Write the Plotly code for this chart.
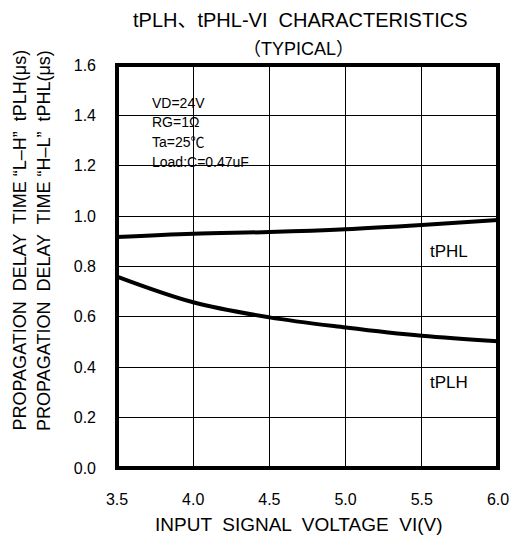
import plotly.graph_objects as go

vi = [3.5, 4.0, 4.5, 5.0, 5.5, 6.0]
tphl = [0.917, 0.930, 0.937, 0.948, 0.965, 0.985]
tplh = [0.760, 0.658, 0.598, 0.558, 0.525, 0.503]

x_ticks = [3.5, 4.0, 4.5, 5.0, 5.5, 6.0]
x_ticklabels = ["3.5", "4.0", "4.5", "5.0", "5.5", "6.0"]
y_ticks = [0.0, 0.2, 0.4, 0.6, 0.8, 1.0, 1.2, 1.4, 1.6]
y_ticklabels = ["0.0", "0.2", "0.4", "0.6", "0.8", "1.0", "1.2", "1.4", "1.6"]

conditions = ["VD=24V", "RG=1Ω", "Ta=25℃", "Load:C=0.47uF"]

FONT = "Liberation Sans, Noto Sans CJK JP, sans-serif"

# pixel layout of plot area
PL, PR, PT, PB = 117, 508, 65, 468
W, H = PR - PL, PB - PT


def px(x):
    return (x - PL) / W


def py(y):
    return (PB - y) / H


fig = go.Figure()
fig.add_trace(go.Scatter(x=vi, y=tphl, mode="lines", line=dict(color="black", width=4, shape="spline"),
                         name="tPHL", showlegend=False, hoverinfo="skip"))
fig.add_trace(go.Scatter(x=vi, y=tplh, mode="lines", line=dict(color="black", width=4, shape="spline"),
                         name="tPLH", showlegend=False, hoverinfo="skip"))

fig.update_layout(
    width=521, height=535, autosize=False,
    margin=dict(l=PL, r=521 - PR, t=PT, b=535 - PB),
    paper_bgcolor="white", plot_bgcolor="white",
    font=dict(family=FONT, color="black", size=16),
    xaxis=dict(range=[3.5, 6.0], tickvals=x_ticks, ticktext=x_ticklabels,
               showgrid=True, gridcolor="black", gridwidth=1, zeroline=False,
               showline=False, ticks="", ticklabelstandoff=20),
    yaxis=dict(range=[0, 1.6], tickvals=y_ticks, ticktext=y_ticklabels,
               showgrid=True, gridcolor="black", gridwidth=1, zeroline=False,
               showline=False, ticks="", ticklabelstandoff=20),
)

# white box behind condition text
fig.add_shape(type="rect", xref="paper", yref="paper",
              x0=px(138), x1=px(260), y0=py(185), y1=py(83),
              fillcolor="white", line=dict(width=0), layer="below")

# frame
fig.add_shape(type="rect", xref="paper", yref="paper", x0=0, x1=1, y0=0, y1=1,
              line=dict(color="black", width=4), layer="above")


def note(x, y, text, size, **kw):
    args = dict(xref="paper", yref="paper", x=x, y=y, text=text, showarrow=False,
                xanchor="center", yanchor="middle", font=dict(size=size))
    args.update(kw)
    fig.add_annotation(**args)


for i, t in enumerate(conditions):
    note(px(151), py(103 + i * 19.5), t, 14, xanchor="left")

fig.add_annotation(x=5.68, y=0.86, text="tPHL", showarrow=False, font=dict(size=17),
                   xanchor="center", yanchor="middle")
fig.add_annotation(x=5.68, y=0.34, text="tPLH", showarrow=False, font=dict(size=17),
                   xanchor="center", yanchor="middle")

note(px(305), py(20), "tPLH、tPHL-VI  CHARACTERISTICS", 20)
note(px(303), py(49), "（TYPICAL）", 18)
note(px(304), py(524), "INPUT  SIGNAL  VOLTAGE  VI(V)", 19)
note(px(17), py(240), "PROPAGATION  DELAY  TIME “L–H”  tPLH(μs)", 18, textangle=-90)
note(px(42), py(240), "PROPAGATION  DELAY  TIME “H–L”  tPHL(μs)", 18, textangle=-90)

fig.write_html(
    "out.html",
    config={"displayModeBar": False},
    post_script="document.body.style.margin='0';document.body.style.overflow='hidden';",
)
